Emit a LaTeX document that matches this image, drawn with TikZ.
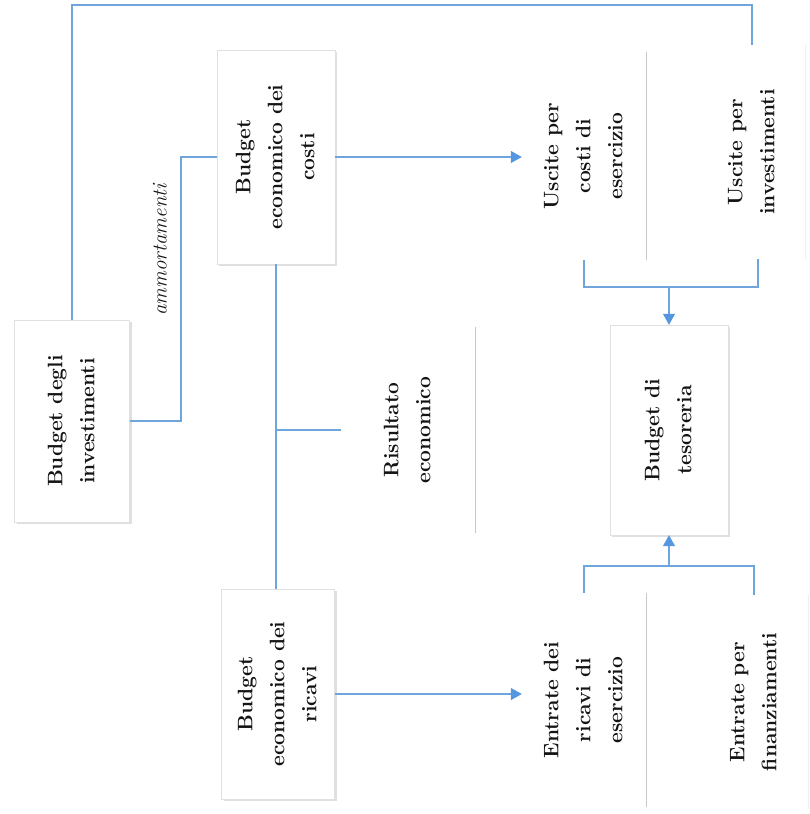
\documentclass[tikz,border=0pt]{standalone}
\usepackage{fontspec}
\usepackage{graphicx}
\usetikzlibrary{arrows.meta,shadows}
\definecolor{lineblue}{RGB}{110,165,220}
\definecolor{tipblue}{RGB}{85,150,225}
\definecolor{sepgray}{RGB}{200,200,200}
\definecolor{txt}{RGB}{20,20,20}
\newcommand{\vtext}[1]{\rotatebox{90}{\fontsize{21}{32}\selectfont\bfseries\addfontfeatures{FakeBold=0.6}\begin{tabular}{@{}c@{}}#1\end{tabular}}}
\begin{document}
\begin{tikzpicture}[x=1pt,y=-1pt,
  box/.style={draw=black!12, fill=white, inner sep=0pt, text=txt,
    drop shadow={shadow xshift=2pt, shadow yshift=-2pt, opacity=0.25}},
  plain/.style={inner sep=0pt, text=txt},
  link/.style={draw=lineblue, line width=1.1pt},
  arr/.style={link, -{Triangle[width=12pt,length=11pt,color=tipblue]}},
  sep/.style={draw=sepgray, line width=1.3pt},
  faint/.style={draw=black!6, line width=1pt}]
\useasboundingbox (0,0) rectangle (810,814);

\node[box, minimum width=115pt, minimum height=202pt] (inv) at (72,421) {\vtext{Budget degli\\investimenti}};
\node[box, minimum width=118pt, minimum height=214pt] (costi) at (276,157) {\vtext{Budget\\economico dei\\costi}};
\node[box, minimum width=113pt, minimum height=210pt] (ricavi) at (278,694) {\vtext{Budget\\economico dei\\ricavi}};
\node[plain, minimum width=134pt, minimum height=206pt] (ris) at (408,430) {\vtext{Risultato\\economico}};
\node[box, minimum width=118pt, minimum height=210pt] (tes) at (669,430) {\vtext{Budget di\\tesoreria}};
\node[plain, minimum width=124pt, minimum height=208pt] (ucost) at (584,156) {\vtext{Uscite per\\costi di\\esercizio}};
\node[plain, minimum width=106pt, minimum height=214pt] (uinv) at (752,152) {\vtext{Uscite per\\investimenti}};
\node[plain, minimum width=124pt, minimum height=214pt] (eric) at (584,700) {\vtext{Entrate dei\\ricavi di\\esercizio}};
\node[plain, minimum width=108pt, minimum height=214pt] (efin) at (754,702) {\vtext{Entrate per\\finanziamenti}};

% separators / faint box edges
\draw[sep] (ris.north east) -- (ris.south east);
\draw[sep] (ucost.north east) -- (ucost.south east);
\draw[sep] (eric.north east) -- (eric.south east);
\draw[faint] (uinv.north east) -- (uinv.south east);
\draw[faint] (efin.north east) -- (efin.south east);

% top connector
\coordinate (top) at (400,5);
\draw[link] (inv.north) |- (top) -| (uinv.north);

% ammortamenti
\coordinate (amm) at (181,290);
\draw[link] (inv.east) -| (amm) |- (costi.west);
\node[rotate=90, text=txt, font=\fontsize{21}{24}\selectfont\itshape] (ammlbl) at (160,250) {ammortamenti};

% costi / ricavi / risultato
\draw[link] (costi.south) -- (costi.south |- ricavi.north);
\draw[link] (costi.south |- ris.west) -- (ris.west);

% arrows to flows
\draw[arr] (costi.east) -- (costi.east -| ucost.west);
\draw[arr] (ricavi.east) -- (ricavi.east -| eric.west);

% upper bracket
\coordinate (ub) at (669,287);
\draw[link] (ucost.south) |- (ub) -| ([xshift=6pt]uinv.south);
\draw[arr] (ub) -- (tes.north);

% lower bracket
\coordinate (lb) at (669,566);
\draw[link] (eric.north) |- (lb) -| (efin.north);
\draw[arr] (lb) -- (tes.south);
\end{tikzpicture}
\end{document}
